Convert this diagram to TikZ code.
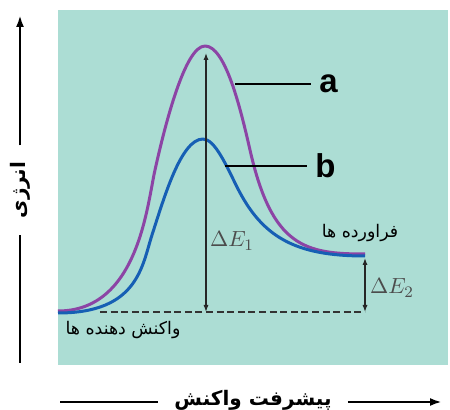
\documentclass[tikz,border=0pt]{standalone}
\usepackage{amsmath}
\usepackage{fontspec}
\usetikzlibrary{arrows.meta,positioning}
\newfontfamily\farsifont[Script=Arabic]{DejaVu Sans}
\newfontfamily\tagfont{Liberation Sans}
\TeXXeTstate=1
\definecolor{bgteal}{RGB}{172,221,212}
\definecolor{pathA}{RGB}{140,68,165}
\definecolor{pathB}{RGB}{22,95,180}

\begin{document}
\begin{tikzpicture}[
    x=0.5pt, y=-0.5pt,
    >={Latex[length=3.5pt,width=2.6pt]},
    axis/.style={line width=1.3pt},
    curve/.style={line width=1.5pt, line join=round},
    leader/.style={line width=1pt},
    level/.style={dash pattern=on 3.5pt off 1.8pt, line width=0.75pt, black!80},
    gap/.style={<->, line width=0.7pt, black!85},
    fa/.style={font=\farsifont\fontsize{8.7}{10}\selectfont, inner sep=0pt},
    axislabel/.style={font=\farsifont\bfseries\fontsize{10}{12}\selectfont, inner xsep=8pt, inner ysep=1pt},
    tag/.style={font=\tagfont\bfseries\fontsize{16.5}{18}\selectfont, inner xsep=4pt, inner ysep=0pt},
    dE/.style={text=black!70, font=\fontsize{11}{13}\selectfont, inner sep=0pt}
]
\useasboundingbox (0,0) rectangle (450,410);
\fill[bgteal] (58,10) rectangle (448,365);

% energy levels
\coordinate (R0) at (100,312);
\coordinate (R1) at (365,312);
\coordinate (Pk) at (206,53);
\coordinate (Rb) at (206,312);
\coordinate (Pr) at (365,258);
\draw[level] (R0) -- (R1);

% the two paths
\draw[curve, pathA] (58,311) .. controls (138,311) and (147,206) .. (155,170)
    .. controls (165,125) and (185,46) .. (205,46)
    .. controls (225,46) and (240,106) .. (250,150)
    .. controls (272,247) and (305,254) .. (365,254);
\draw[curve, pathB] (58,313) .. controls (138,313) and (142,266) .. (152,235)
    .. controls (164,198) and (181,139) .. (203,139)
    .. controls (215,139) and (227,167) .. (237,187)
    .. controls (262,237) and (295,256) .. (365,256);

% energy gaps
\draw[gap] (Pk) -- (Rb);
\draw[gap] (Pr) -- (R1);
\node[dE] (E1) at (232,241) {$\Delta E_1$};
\node[dE] (E2) at (392,288) {$\Delta E_2$};

% path tags
\coordinate (Aon) at (235,84);
\coordinate (Bon) at (225,166);
\node[tag, right=38pt of Aon] (A) {a};
\node[tag, right=41pt of Bon] (B) {b};
\draw[leader] (Aon) -- (A);
\draw[leader] (Bon) -- (B);

% species
\node[fa] (Prod) at (360,233) {\beginR فراورده ها\endR};
\node[fa] (Reac) at (123,330) {\beginR واکنش دهنده ها\endR};

% axes
\coordinate (Y0) at (20,363);
\coordinate (Y1) at (20,15);
\coordinate (X0) at (60,402);
\coordinate (X1) at (442,402);
\node[axislabel, rotate=90] (Y) at (20,190) {\beginR انرژی\endR};
\node[axislabel] (X) at (253,400) {\beginR پیشرفت واکنش\endR};
\draw[axis] (Y0) -- (Y);
\draw[axis, -{Latex[length=6pt,width=4pt]}] (Y) -- (Y1);
\draw[axis] (X0) -- (X.west |- X0);
\draw[axis, -{Latex[length=6pt,width=4pt]}] (X.east |- X1) -- (X1);
\end{tikzpicture}
\end{document}
